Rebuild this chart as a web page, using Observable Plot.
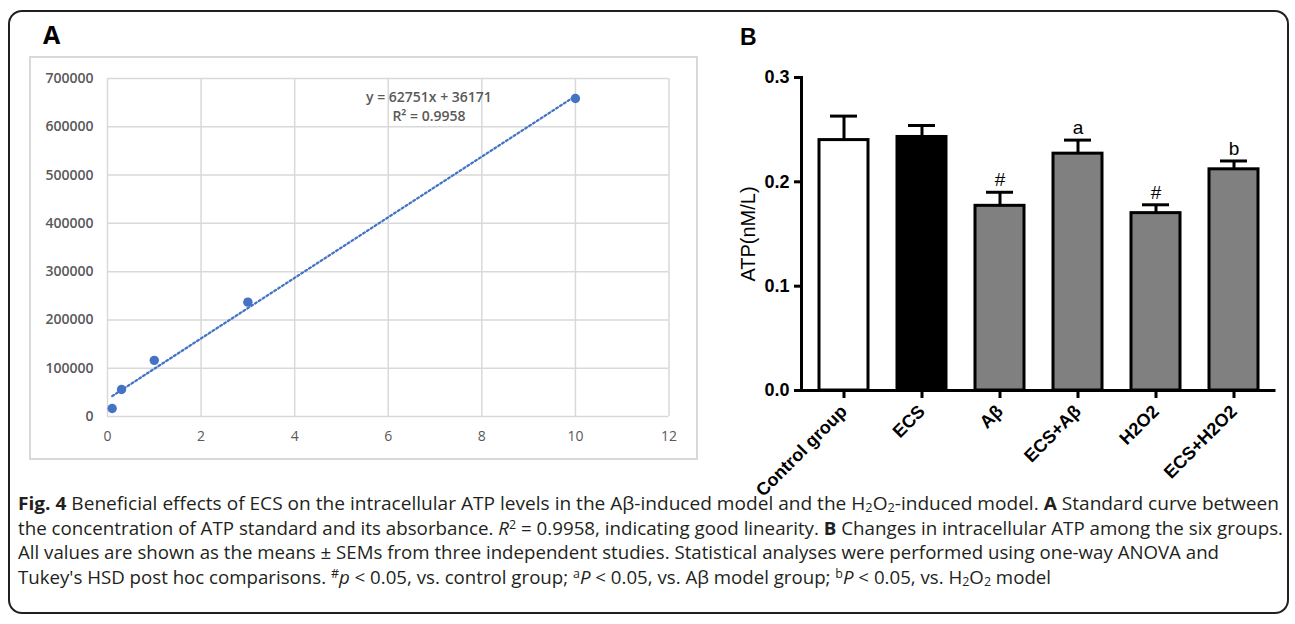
<!DOCTYPE html>
<html><head><meta charset="utf-8">
<script src="https://cdn.jsdelivr.net/npm/d3@7"></script>
<script src="https://cdn.jsdelivr.net/npm/@observablehq/plot@0.6"></script>
<style>
html,body{margin:0;padding:0;background:#fff;width:1295px;height:624px;overflow:hidden;position:relative;}
#border{position:absolute;left:8px;top:10px;width:1281px;height:604px;border:2px solid #231f20;border-radius:14px;box-sizing:border-box;}
#labA{position:absolute;left:43px;top:22px;font:bold 25px "Open Sans";line-height:25px;color:#000;}
#labB{position:absolute;left:740px;top:26px;font:bold 23px "Liberation Sans",Arial;line-height:23px;color:#000;}
#plotA{position:absolute;left:30px;top:57px;}
#plotB{position:absolute;left:720px;top:60px;}
#caption{position:absolute;left:18px;top:491px;font:18px "Open Sans";line-height:24.5px;color:#231f20;white-space:nowrap;}
#caption .ln{transform-origin:0 50%;width:max-content;}
#caption b{font-weight:700;}
#caption sub{font-size:12px;line-height:1;vertical-align:-2px;}
#caption sup{font-size:12px;line-height:1;vertical-align:6px;}
</style></head>
<body>
<div id="border"></div>
<div id="labA">A</div>
<div id="labB">B</div>
<div id="plotA"></div>
<div id="plotB"></div>
<div id="caption">
<div class="ln" data-right="1279"><b>Fig. 4</b> Beneficial effects of ECS on the intracellular ATP levels in the Aβ-induced model and the H<sub>2</sub>O<sub>2</sub>-induced model. <b>A</b> Standard curve between</div>
<div class="ln" data-right="1283">the concentration of ATP standard and its absorbance. <i>R</i><sup>2</sup> = 0.9958, indicating good linearity. <b>B</b> Changes in intracellular ATP among the six groups.</div>
<div class="ln" data-right="1219">All values are shown as the means ± SEMs from three independent studies. Statistical analyses were performed using one-way ANOVA and</div>
<div class="ln" data-right="1051">Tukey's HSD post hoc comparisons. <sup>#</sup><i>p</i> &lt; 0.05, vs. control group; <sup>a</sup><i>P</i> &lt; 0.05, vs. Aβ model group; <sup>b</sup><i>P</i> &lt; 0.05, vs. H<sub>2</sub>O<sub>2</sub> model</div>
</div>
<script>
// Panel A data: ATP standard curve
const concentrations = [0.1, 0.3, 1, 3, 10];
const absorbance = [16600, 56000, 116300, 236800, 658500];
const xTicksA = [0, 2, 4, 6, 8, 10, 12];
const yTicksA = [0, 100000, 200000, 300000, 400000, 500000, 600000, 700000];
const equationLines = ["y = 62751x + 36171", "R² = 0.9958"];

// Panel B data: intracellular ATP among six groups
const groups = ["Control group", "ECS", "Aβ", "ECS+Aβ", "H2O2", "ECS+H2O2"];
const atpMean = [0.240, 0.243, 0.177, 0.227, 0.170, 0.212];
const atpSem = [0.023, 0.011, 0.013, 0.013, 0.008, 0.008];
const sigLabels = ["", "", "#", "a", "#", "b"];
const barFills = ["#ffffff", "#000000", "#808080", "#808080", "#808080", "#808080"];
const yTicksB = [0, 0.1, 0.2, 0.3];

const ptsA = concentrations.map((c, i) => ({c, a: absorbance[i]}));
const grid = {stroke: "#d9d9d9", strokeOpacity: 1, strokeWidth: 1.5};

const plotA = Plot.plot({
  width: 667, height: 402,
  marginLeft: 77, marginRight: 28.5, marginTop: 21, marginBottom: 43,
  style: {fontFamily: "Open Sans", fontSize: "14px", color: "#595959", background: "#fff", outline: "2px solid #d9d9d9", outlineOffset: "-1px", overflow: "visible"},
  x: {domain: [0, 12]},
  y: {domain: [0, 700000]},
  marks: [
    Plot.gridX(xTicksA, grid),
    Plot.gridY(yTicksA, grid),
    Plot.linearRegressionY(ptsA, {x: "c", y: "a", stroke: "#4472C4", strokeWidth: 2.2, strokeDasharray: "2 2.6", ci: 0}),
    Plot.dot(ptsA, {x: "c", y: "a", r: 4.7, fill: "#4472C4"}),
    Plot.text([equationLines.join("\n")], {x: 6.87, y: 644000, text: d => d, lineHeight: 1.38, fontSize: 14, fontWeight: 600, fill: "#595959", textAnchor: "middle", lineAnchor: "middle"}),
    Plot.axisX(xTicksA, {tickSize: 0, tickPadding: 15, label: null, fill: "#595959", fontSize: 14}),
    Plot.axisY(yTicksA, {tickSize: 0, tickPadding: 14, label: null, tickFormat: d3.format("d"), fill: "#595959", fontSize: 14, fontWeight: 600})
  ]
});
document.getElementById("plotA").append(plotA);

const rowsB = groups.map((g, i) => ({g, m: atpMean[i], top: atpMean[i] + atpSem[i], lab: sigLabels[i], fill: barFills[i]}));

const plotB = Plot.plot({
  width: 570, height: 420,
  marginLeft: 81, marginRight: 14.5, marginTop: 17, marginBottom: 90,
  style: {fontFamily: "'Liberation Sans', Arial", color: "#000", overflow: "visible", background: "transparent"},
  x: {domain: groups, paddingInner: 0.376, paddingOuter: 0.21},
  y: {domain: [0, 0.3]},
  color: {type: "identity"},
  marks: [
    Plot.ruleX(rowsB, {x: "g", y1: "m", y2: "top", stroke: "#000", strokeWidth: 3}),
    Plot.tickY(rowsB, {x: "g", y: "top", stroke: "#000", strokeWidth: 3, insetLeft: 11, insetRight: 11}),
    Plot.barY(rowsB, {x: "g", y: "m", fill: "fill", stroke: "#000", strokeWidth: 3}),
    Plot.text(rowsB, {x: "g", y: "top", text: "lab", lineAnchor: "bottom", dy: -6, fontSize: 19, fill: "#000"}),
    Plot.ruleY([0], {stroke: "#000", strokeWidth: 3, insetLeft: -6}),
    Plot.frame({anchor: "left", stroke: "#000", strokeWidth: 3}),
    Plot.axisY(yTicksB, {tickSize: 7, tickPadding: 5, strokeWidth: 3, label: null, tickFormat: d3.format(".1f"), fontSize: 18, fontWeight: "bold", fill: "#000"}),
    Plot.axisX({tickRotate: -45, tickSize: 8, tickPadding: 10, strokeWidth: 3, label: null, fontSize: 18, fontWeight: "bold", fill: "#000"}),
    Plot.text(["ATP(nM/L)"], {frameAnchor: "left", rotate: -90, dx: -53, textAnchor: "middle", text: d => d, fontSize: 20, fill: "#000"})
  ]
});
document.getElementById("plotB").append(plotB);

// fit caption lines to the reference line lengths
const capLeft = 18;
document.querySelectorAll("#caption .ln").forEach(el => {
  const w = el.getBoundingClientRect().width;
  const target = +el.dataset.right - capLeft;
  el.style.transform = `scaleX(${target / w})`;
});
</script>
</body></html>
